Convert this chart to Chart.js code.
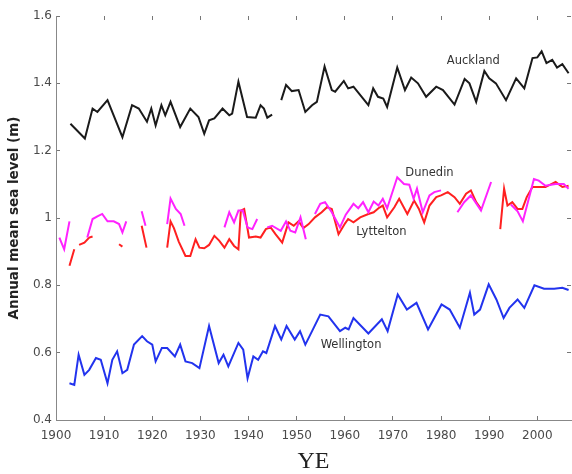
<!DOCTYPE html>
<html>
<head>
<meta charset="utf-8">
<script src="https://cdn.jsdelivr.net/npm/chart.js@4.4.0/dist/chart.umd.min.js"></script>
<style>
  body { margin: 0; background: #fff; }
  canvas { display: block; }
</style>
</head>
<body>
<canvas id="seaLevelChart" width="572" height="474"></canvas>
<script>
// annual mean sea level (m), [year, level]; null = gap in the record
const auckland = [
    [1903, 1.28], [1906, 1.236], [1907.6, 1.325], [1908.6, 1.315], [1910.7, 1.35],
    [1913.8, 1.24], [1915.8, 1.335], [1917.2, 1.325], [1918.9, 1.286], [1919.8, 1.325],
    [1920.7, 1.275], [1921.9, 1.335], [1922.7, 1.305], [1923.8, 1.345], [1925.8, 1.27],
    [1927.9, 1.325], [1929.6, 1.30], [1930.8, 1.25], [1931.8, 1.29], [1932.9, 1.296],
    [1934.6, 1.325], [1936, 1.305], [1936.6, 1.31], [1937.9, 1.405], [1939.7, 1.30],
    [1941.5, 1.298], [1942.5, 1.335], [1943.2, 1.325], [1943.9, 1.298], [1944.9, 1.307],
    [1946, null],
    [1946.8, 1.35], [1947.8, 1.395], [1949, 1.377], [1950.4, 1.38], [1951.8, 1.315],
    [1953.2, 1.335], [1954.2, 1.345], [1955.8, 1.45], [1957.3, 1.38], [1958, 1.375],
    [1959.8, 1.407], [1960.7, 1.385], [1961.8, 1.39], [1964.9, 1.335], [1965.9, 1.385],
    [1966.9, 1.36], [1968, 1.355], [1968.8, 1.33], [1970.9, 1.447], [1972.5, 1.38],
    [1973.8, 1.417], [1975.2, 1.40], [1976.9, 1.36], [1979, 1.39], [1980.4, 1.38],
    [1982.8, 1.337], [1984.9, 1.413], [1985.9, 1.40], [1987.3, 1.345], [1989, 1.437],
    [1990, 1.415], [1991.4, 1.40], [1993.5, 1.35], [1995.6, 1.415], [1997.3, 1.385],
    [1999, 1.475], [2000, 1.477], [2000.9, 1.495], [2001.9, 1.46], [2003.1, 1.47],
    [2004.1, 1.447], [2005.2, 1.457], [2006.5, 1.43]
];

const dunedin = [
    [1900.7, 0.942], [1901.7, 0.907], [1902.8, 0.99],
    [1904, null],
    [1906.5, 0.942], [1907.6, 0.997], [1908.6, 1.005], [1909.6, 1.012], [1910.7, 0.99],
    [1912, 0.99], [1913.1, 0.982], [1913.8, 0.957], [1914.6, 0.99],
    [1916, null],
    [1917.8, 1.02], [1918.6, 0.977],
    [1920, null],
    [1923.1, 0.982], [1923.8, 1.058], [1924.9, 1.027], [1925.9, 1.012], [1926.7, 0.977],
    [1930, null],
    [1935, 0.972], [1936, 1.017], [1937, 0.987], [1937.9, 1.022], [1938.8, 1.022],
    [1939.8, 0.972], [1940.8, 0.967], [1941.8, 0.997],
    [1943, null],
    [1943.9, 0.972], [1944.9, 0.977], [1946.7, 0.962], [1947.8, 0.99], [1948.7, 0.962],
    [1949.7, 0.957], [1950.8, 1.002], [1951.9, 0.937],
    [1952.8, null],
    [1953.8, 1.012], [1954.9, 1.042], [1955.9, 1.047], [1957.3, 1.017], [1959, 0.972],
    [1960.2, 1.01], [1961.8, 1.042], [1962.8, 1.029], [1963.8, 1.047], [1964.9, 1.017],
    [1966, 1.049], [1967, 1.037], [1967.9, 1.057], [1968.8, 1.029], [1970.9, 1.121],
    [1972.3, 1.101], [1973.4, 1.099], [1974.3, 1.057], [1975, 1.087], [1976.2, 1.017],
    [1977.6, 1.067], [1978.6, 1.077], [1980, 1.082],
    [1981.5, null],
    [1983.4, 1.017], [1984.8, 1.047], [1986.2, 1.067], [1988.3, 1.022], [1990.4, 1.107],
    [1992, null],
    [1994.5, 1.04], [1995.9, 1.02], [1997, 0.99], [1999.3, 1.116], [2000.3, 1.111],
    [2001.7, 1.096], [2003.8, 1.101], [2005.5, 1.101], [2006.5, 1.087]
];

const lyttelton = [
    [1902.8, 0.858], [1903.8, 0.907],
    [1904.3, null],
    [1904.8, 0.92], [1905.9, 0.927], [1906.9, 0.942], [1907.6, 0.945],
    [1910, null],
    [1913.1, 0.922], [1913.8, 0.915],
    [1916, null],
    [1917.8, 0.977], [1918.8, 0.912],
    [1920, null],
    [1923.1, 0.912], [1923.8, 0.99], [1924.5, 0.97], [1925.5, 0.93], [1926.9, 0.887],
    [1927.9, 0.887], [1929, 0.937], [1929.8, 0.912], [1930.8, 0.91], [1931.8, 0.92],
    [1932.9, 0.947], [1933.9, 0.933], [1935, 0.912], [1936, 0.937], [1937, 0.917],
    [1937.9, 0.907], [1938.4, 1.022], [1939.1, 1.027], [1940.1, 0.942], [1941.5, 0.945],
    [1942.5, 0.942], [1943.6, 0.967], [1944.6, 0.972], [1945.6, 0.952], [1947, 0.927],
    [1948.3, 0.987], [1949.4, 0.977], [1950.4, 0.99], [1951.4, 0.97], [1952.5, 0.982],
    [1953.8, 1.002], [1955.2, 1.017], [1956.3, 1.032], [1957.3, 1.027], [1958.7, 0.952],
    [1960.1, 0.985], [1960.7, 0.997], [1961.8, 0.987], [1963.2, 1.002], [1964.9, 1.012],
    [1966, 1.017], [1967, 1.029], [1967.9, 1.037], [1968.8, 1.002], [1970.3, 1.032],
    [1971.3, 1.057], [1973, 1.012], [1974.4, 1.052], [1975.4, 1.027], [1976.5, 0.987],
    [1977.6, 1.037], [1979, 1.062], [1980, 1.067], [1981.4, 1.077], [1982.8, 1.062],
    [1983.9, 1.042], [1985.2, 1.072], [1986.2, 1.082], [1987.3, 1.047], [1988.3, 1.027],
    [1990, null],
    [1992.3, 0.967], [1993.1, 1.087], [1993.8, 1.037], [1994.8, 1.047], [1995.9, 1.027],
    [1996.9, 1.027], [1997.8, 1.062], [1999, 1.092], [2000.4, 1.092], [2001.7, 1.092],
    [2003.8, 1.107], [2005.2, 1.092], [2006.5, 1.096]
];

const wellington = [
    [1902.8, 0.509], [1903.8, 0.504], [1904.7, 0.594], [1905.9, 0.534], [1906.9, 0.549],
    [1908.3, 0.584], [1909.3, 0.579], [1910.7, 0.509], [1911.7, 0.579], [1912.7, 0.604],
    [1913.8, 0.539], [1914.8, 0.549], [1916.2, 0.624], [1917.9, 0.649], [1918.9, 0.634],
    [1920, 0.624], [1920.7, 0.574], [1922, 0.614], [1923.1, 0.614], [1924.7, 0.589],
    [1925.8, 0.624], [1926.9, 0.574], [1928.3, 0.569], [1929.8, 0.554], [1931.8, 0.679],
    [1933.8, 0.569], [1934.8, 0.594], [1935.8, 0.559], [1937.9, 0.629], [1938.9, 0.609],
    [1939.8, 0.524], [1941, 0.589], [1942, 0.579], [1943, 0.604], [1943.7, 0.599],
    [1945.5, 0.679], [1946.8, 0.639], [1947.9, 0.679], [1949.6, 0.639], [1950.7, 0.664],
    [1951.8, 0.624], [1953.2, 0.664], [1954.9, 0.713], [1956.6, 0.708], [1959, 0.664],
    [1960.1, 0.674], [1960.8, 0.669], [1961.8, 0.703], [1964.9, 0.657], [1967.7, 0.699],
    [1968.9, 0.664], [1971, 0.773], [1972.9, 0.728], [1974.9, 0.748], [1977.3, 0.669],
    [1980.1, 0.743], [1981.8, 0.728], [1983.9, 0.674], [1986, 0.778], [1986.9, 0.713],
    [1988.1, 0.728], [1989.9, 0.803], [1991.5, 0.758], [1993, 0.703], [1994.2, 0.733],
    [1995.9, 0.758], [1997.3, 0.733], [1999.4, 0.80], [2001.4, 0.79], [2003.5, 0.79],
    [2005.2, 0.793], [2006.5, 0.786]
];

const YEAR_MIN = 1900;
const YEAR_MAX = 2007;
const LEVEL_MIN = 0.4;
const LEVEL_MAX = 1.6;

// where the station names sit, in data units
const stationNames = [
    { text: 'Auckland', year: 1986.7, level: 1.467 },
    { text: 'Dunedin', year: 1977.6, level: 1.134 },
    { text: 'Lyttelton', year: 1967.6, level: 0.957 },
    { text: 'Wellington', year: 1961.3, level: 0.622 }
];

const toPoints = function (pairs) {
    return pairs.map(function (p) {
        return { x: p[0], y: p[1] };
    });
}

const doDataset = function (label, pairs, color) {
    return {
        label: label,
        data: toPoints(pairs),
        borderColor: color,
        borderWidth: 2,
        pointRadius: 0,
        tension: 0,
        spanGaps: false,
        xAxisID: 'x',
        yAxisID: 'y'
    }
}

const stationNamePlugin = {
    id: 'stationNames',
    afterDatasetsDraw: function (chart) {
        const ctx = chart.ctx;
        const x = chart.scales.x;
        const y = chart.scales.y;
        ctx.save();
        ctx.font = '11.5px "DejaVu Sans"';
        ctx.fillStyle = '#333';
        ctx.textAlign = 'center';
        ctx.textBaseline = 'middle';
        stationNames.forEach(function (s) {
            ctx.fillText(s.text, x.getPixelForValue(s.year), y.getPixelForValue(s.level));
        });
        ctx.restore();
    }
}

const tickFont = { family: 'DejaVu Sans', size: 12 };
const tickColor = '#4a4a4a';
const axisGrey = '#888';

const chart = new Chart(document.getElementById('seaLevelChart'), {
    type: 'line',
    data: {
        datasets: [
            doDataset('Auckland', auckland, '#1a1a1a'),
            doDataset('Dunedin', dunedin, '#ff22ff'),
            doDataset('Lyttelton', lyttelton, '#ff2020'),
            doDataset('Wellington', wellington, '#2233ee')
        ]
    },
    options: {
        responsive: false,
        animation: false,
        layout: { padding: { top: 16, right: 1, left: 0, bottom: 0 } },
        plugins: {
            legend: { display: false },
            tooltip: { enabled: false }
        },
        scales: {
            x: {
                type: 'linear',
                position: 'bottom',
                min: YEAR_MIN,
                max: YEAR_MAX,
                afterFit: function (scale) { scale.height = 54; },
                ticks: {
                    stepSize: 10,
                    includeBounds: false,
                    autoSkip: false,
                    maxRotation: 0,
                    padding: 13,
                    color: tickColor,
                    font: tickFont,
                    callback: function (value) { return String(value); }
                },
                grid: { drawOnChartArea: false, tickLength: -4, color: '#777' },
                border: { color: axisGrey },
                title: {
                    display: true,
                    text: 'YE',
                    color: '#222',
                    font: { family: 'Liberation Serif', size: 24, lineHeight: 1 },
                    padding: { top: 0, bottom: 0 }
                }
            },
            xTop: {
                type: 'linear',
                position: 'top',
                min: YEAR_MIN,
                max: YEAR_MAX,
                afterFit: function (scale) { scale.height = 0; },
                ticks: { stepSize: 10, includeBounds: false, display: false },
                grid: { drawOnChartArea: false, tickLength: -4, color: '#777' },
                border: { display: false }
            },
            y: {
                type: 'linear',
                position: 'left',
                min: LEVEL_MIN,
                max: LEVEL_MAX,
                afterFit: function (scale) { scale.width = 56; },
                ticks: {
                    stepSize: 0.2,
                    includeBounds: false,
                    padding: 8,
                    color: tickColor,
                    font: tickFont,
                    callback: function (value) { return String(Math.round(value * 10) / 10); }
                },
                grid: { drawOnChartArea: false, tickLength: -4, color: '#777' },
                border: { color: axisGrey },
                title: {
                    display: true,
                    text: 'Annual mean sea level (m)',
                    color: '#222',
                    font: { family: 'DejaVu Sans', size: 13.5, weight: 'bold', lineHeight: 1.2 },
                    padding: { top: 6, bottom: 0 }
                }
            },
            yRight: {
                type: 'linear',
                position: 'right',
                min: LEVEL_MIN,
                max: LEVEL_MAX,
                afterFit: function (scale) { scale.width = 0; },
                ticks: { stepSize: 0.2, includeBounds: false, display: false },
                grid: { drawOnChartArea: false, tickLength: -4, color: '#777' },
                border: { display: false }
            }
        }
    },
    plugins: [stationNamePlugin]
});
</script>
</body>
</html>
